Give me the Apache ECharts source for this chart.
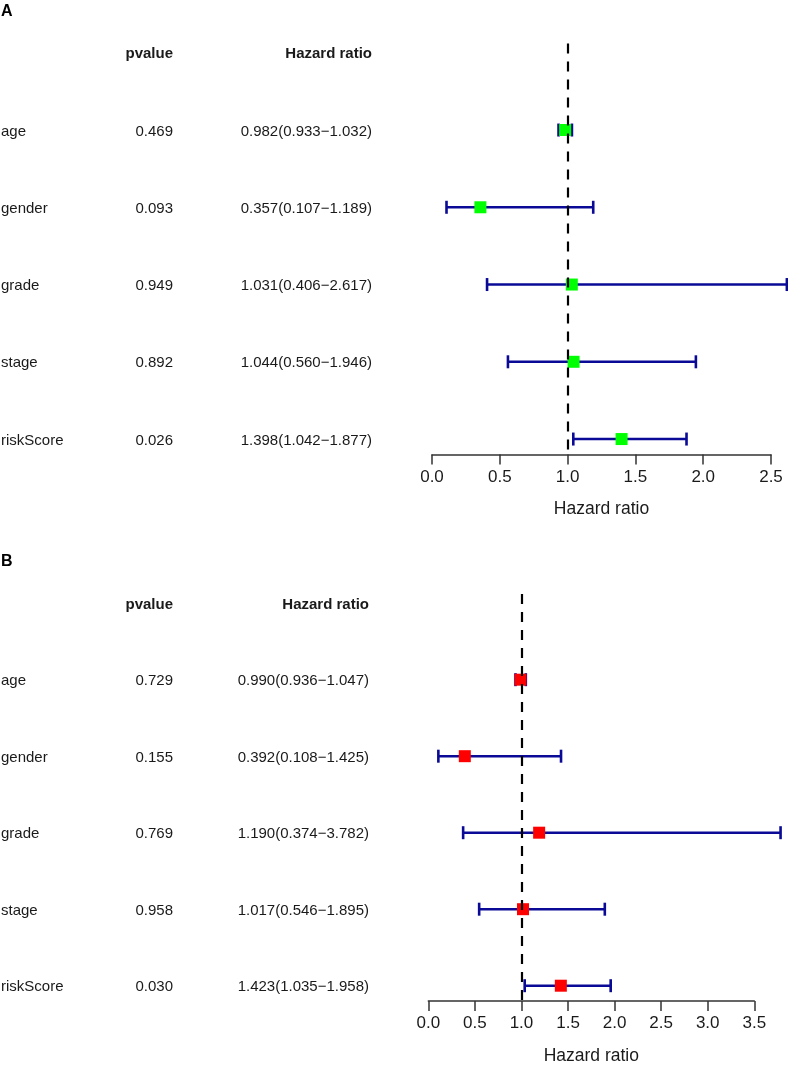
<!DOCTYPE html>
<html>
<head>
<meta charset="utf-8">
<script src="https://cdn.jsdelivr.net/npm/echarts@6/dist/echarts.min.js"></script>
<style>
  html, body { margin: 0; padding: 0; background: #ffffff; }
  #chart { width: 788px; height: 1066px; }
</style>
</head>
<body>
<div id="chart"></div>
<script>
// ---------- data ----------
const variables = ['age', 'gender', 'grade', 'stage', 'riskScore'];

const pvalueA = ['0.469', '0.093', '0.949', '0.892', '0.026'];
const hrA     = [0.982, 0.357, 1.031, 1.044, 1.398];
const lowerA  = [0.933, 0.107, 0.406, 0.560, 1.042];
const upperA  = [1.032, 1.189, 2.617, 1.946, 1.877];

const pvalueB = ['0.729', '0.155', '0.769', '0.958', '0.030'];
const hrB     = [0.990, 0.392, 1.190, 1.017, 1.423];
const lowerB  = [0.936, 0.108, 0.374, 0.546, 1.035];
const upperB  = [1.047, 1.425, 3.782, 1.895, 1.958];

const axisMaxA = 2.5;
const axisMaxB = 3.5;
const tickInterval = 0.5;
const refLine = 1;

const headerP = 'pvalue';
const headerHR = 'Hazard ratio';
const axisTitle = 'Hazard ratio';
const panelLabels = ['A', 'B'];

// ---------- helpers ----------
const FONT = '"Liberation Sans", Arial, Helvetica, sans-serif';
const BAR_COLOR = '#0a0a96';
const TEXT_COLOR = '#1a1a1a';

function hrText(h, l, u) {
  return h.toFixed(3) + '(' + l.toFixed(3) + '\u2212' + u.toFixed(3) + ')';
}

function makeTextSeries(gridIdx, pvals, hrs, lows, ups, hrRight) {
  const rows = [{ name: '', p: headerP, h: headerHR, bold: true }];
  variables.forEach((v, i) => rows.push({ name: v, p: pvals[i], h: hrText(hrs[i], lows[i], ups[i]), bold: false }));
  return {
    type: 'custom',
    xAxisIndex: gridIdx,
    yAxisIndex: gridIdx,
    silent: true,
    clip: false,
    data: rows.map((r, k) => [refLine, k - 1]),
    encode: { x: 0, y: 1 },
    renderItem: function (params, api) {
      const r = rows[params.dataIndex];
      const y = api.coord([refLine, api.value(1)])[1] + 1.5;
      const mk = (x, txt, align) => ({
        type: 'text',
        x: x, y: y,
        style: {
          text: txt,
          fontFamily: FONT,
          fontSize: 15,
          fontWeight: r.bold ? 'bold' : 'normal',
          fill: TEXT_COLOR,
          align: align,
          verticalAlign: 'middle'
        }
      });
      return {
        type: 'group',
        children: [mk(1, r.name, 'left'), mk(173, r.p, 'right'), mk(hrRight, r.h, 'right')]
      };
    }
  };
}

function makeErrSeries(gridIdx, hrs, lows, ups, color) {
  return {
    type: 'custom',
    xAxisIndex: gridIdx,
    yAxisIndex: gridIdx,
    silent: true,
    clip: false,
    data: variables.map((v, i) => [i, lows[i], ups[i], hrs[i]]),
    encode: { x: [1, 2, 3], y: 0 },
    renderItem: function (params, api) {
      const i = api.value(0);
      const pLo = api.coord([api.value(1), i]);
      const pHi = api.coord([api.value(2), i]);
      const pHr = api.coord([api.value(3), i]);
      const cap = 6.5, sq = 6;
      const ls = { stroke: BAR_COLOR, lineWidth: 2.6 };
      return {
        type: 'group',
        children: [
          { type: 'line', shape: { x1: pLo[0], y1: pLo[1], x2: pHi[0], y2: pHi[1] }, style: ls },
          { type: 'line', shape: { x1: pLo[0], y1: pLo[1] - cap, x2: pLo[0], y2: pLo[1] + cap }, style: ls },
          { type: 'line', shape: { x1: pHi[0], y1: pHi[1] - cap, x2: pHi[0], y2: pHi[1] + cap }, style: ls },
          { type: 'rect', shape: { x: pHr[0] - sq, y: pHr[1] - sq, width: 2 * sq, height: 2 * sq }, style: { fill: color } }
        ]
      };
    },
    markLine: {
      silent: true,
      symbol: 'none',
      animation: false,
      label: { show: false },
      lineStyle: { color: '#000000', width: 2.2, type: [10, 8] },
      data: [{ xAxis: refLine }]
    }
  };
}

function makeXAxis(gridIdx, max) {
  return {
    type: 'value',
    gridIndex: gridIdx,
    min: 0,
    max: max,
    interval: tickInterval,
    splitLine: { show: false },
    axisLine: { show: true, onZero: false, lineStyle: { color: '#333333', width: 1.5 } },
    axisTick: { show: true, length: 10, lineStyle: { color: '#333333', width: 1.5 } },
    axisLabel: {
      margin: 14,
      fontFamily: FONT,
      fontSize: 17,
      color: TEXT_COLOR,
      formatter: v => v.toFixed(1)
    },
    name: axisTitle,
    nameLocation: 'middle',
    nameGap: 46,
    nameTextStyle: { fontFamily: FONT, fontSize: 17.5, color: TEXT_COLOR }
  };
}

function makeYAxis(gridIdx) {
  return {
    type: 'value',
    gridIndex: gridIdx,
    inverse: true,
    min: -1.12,
    max: 4.2,
    show: false
  };
}

const chart = echarts.init(document.getElementById('chart'), null, { renderer: 'canvas' });

chart.setOption({
  animation: false,
  backgroundColor: '#ffffff',
  title: [
    { text: panelLabels[0], left: 1, top: 4, padding: 0, textStyle: { fontFamily: FONT, fontSize: 16, fontWeight: 'bold', color: '#000' } },
    { text: panelLabels[1], left: 1, top: 554, padding: 0, textStyle: { fontFamily: FONT, fontSize: 16, fontWeight: 'bold', color: '#000' } }
  ],
  grid: [
    { left: 432, right: 17, top: 43.5, height: 411, containLabel: false },
    { left: 428.3, right: 33.7, top: 594, height: 408.4, containLabel: false }
  ],
  xAxis: [makeXAxis(0, axisMaxA), makeXAxis(1, axisMaxB)],
  yAxis: [makeYAxis(0), makeYAxis(1)],
  series: [
    makeTextSeries(0, pvalueA, hrA, lowerA, upperA, 372),
    makeErrSeries(0, hrA, lowerA, upperA, '#00ff00'),
    makeTextSeries(1, pvalueB, hrB, lowerB, upperB, 369),
    makeErrSeries(1, hrB, lowerB, upperB, '#ff0000')
  ]
});
</script>
</body>
</html>
